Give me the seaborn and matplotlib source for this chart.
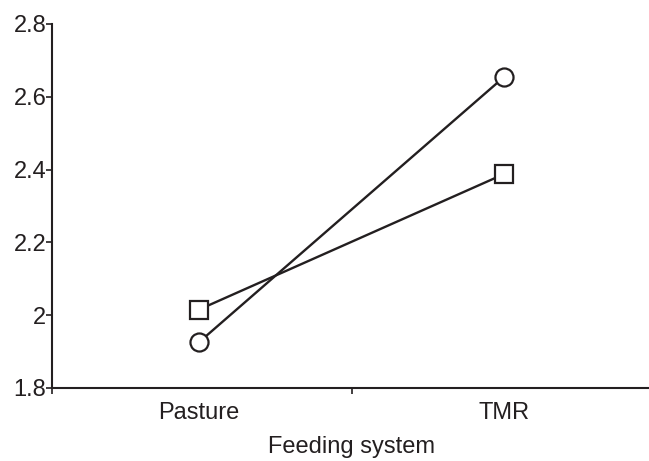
import pandas as pd
import seaborn as sns
import matplotlib.pyplot as plt

sns.set_theme(style="white")
plt.rcParams['font.family'] = ['Liberation Sans', 'DejaVu Sans']

# Data
feeding_system = ["Pasture", "TMR"]
group_circle = [1.925, 2.655]
group_square = [2.015, 2.388]
y_ticks = [1.8, 2.0, 2.2, 2.4, 2.6, 2.8]
y_tick_labels = ["1.8", "2", "2.2", "2.4", "2.6", "2.8"]

INK = "#231f20"

df = pd.DataFrame({
    "Feeding system": feeding_system * 2,
    "value": group_circle + group_square,
    "group": ["Group 1"] * 2 + ["Group 2"] * 2,
})

fig = plt.figure(figsize=(6.49, 4.61), dpi=100)
ax = fig.add_axes([52 / 649, 0.1584, 599 / 649, 0.7896])

sns.lineplot(
    data=df, x="Feeding system", y="value", style="group",
    markers={"Group 1": "o", "Group 2": "s"}, dashes=False,
    color=INK, linewidth=1.7, markersize=13,
    markerfacecolor="white", markeredgecolor=INK, markeredgewidth=1.6,
    legend=False, ax=ax,
)

ax.set_xlim(-0.48, 1.48)
ax.set_ylim(1.8, 2.8)
ax.set_yticks(y_ticks)
ax.set_yticklabels(y_tick_labels)
ax.set_xticks([0, 1])
ax.set_xticklabels(feeding_system)
ax.set_xticks([-0.48, 0.5], minor=True)

for side in ["top", "right"]:
    ax.spines[side].set_visible(False)
for side in ["left", "bottom"]:
    ax.spines[side].set_color(INK)
    ax.spines[side].set_linewidth(1.5)

ax.tick_params(axis="y", which="major", direction="out", length=4, width=1.2,
               color=INK, pad=0, labelsize=17, labelcolor=INK, left=True)
ax.tick_params(axis="x", which="major", length=0, pad=10,
               labelsize=17, labelcolor=INK)
ax.tick_params(axis="x", which="minor", direction="out", length=4, width=1.2,
               color=INK, bottom=True)

ax.set_xlabel("Feeding system", fontsize=17, color=INK, labelpad=9)
ax.set_ylabel("")

plt.savefig("out.png", dpi=100)
